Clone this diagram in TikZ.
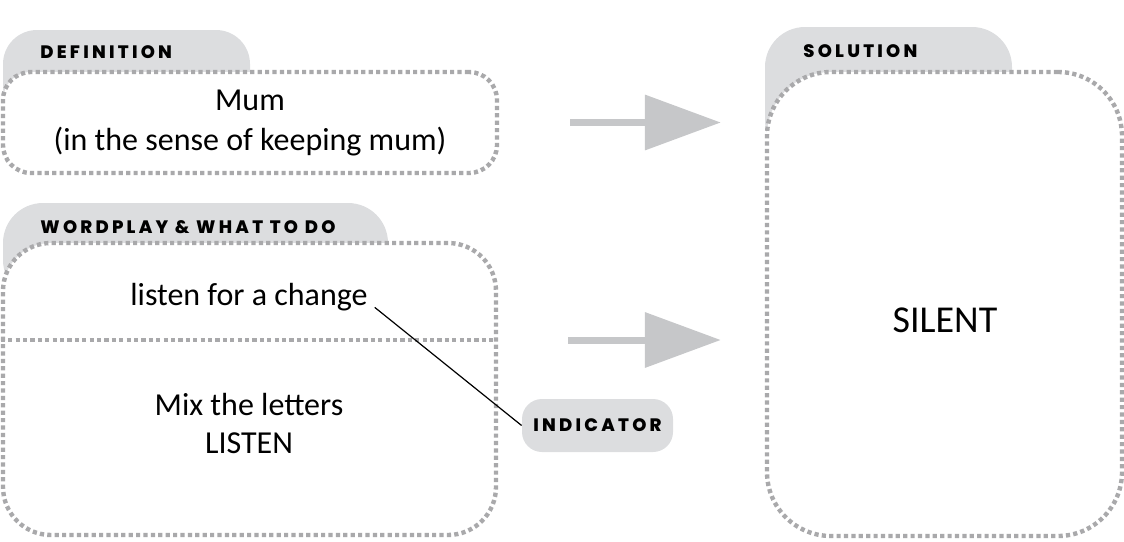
\documentclass[tikz,border=0pt]{standalone}
\usepackage{fontspec}
\setmainfont{Carlito}
\newfontfamily\tabfont[LetterSpace=18]{Poppins ExtraBold}
\usetikzlibrary{arrows.meta}
\definecolor{tabgray}{HTML}{DCDDDF}
\definecolor{dotgray}{HTML}{A9A9AB}
\definecolor{arrgray}{HTML}{C6C7C9}
\begin{document}
\begin{tikzpicture}[x=0.5pt, y=-0.5pt, line join=round,
  dotline/.style={draw=dotgray, line width=2.2pt, dash pattern=on 2.1pt off 1.6pt},
  box/.style={dotline, fill=white},
  body/.style={align=center, font=\fontsize{16}{20}\selectfont},
  tablab/.style={anchor=west, inner sep=0pt, font=\tabfont\fontsize{9}{11}\selectfont},
  bigarrow/.style={draw=arrgray, line width=3.5pt, -{Triangle[length=38pt, width=27pt]}, shorten <=35.5pt, shorten >=22pt}]
\useasboundingbox (0,0) rectangle (1124,541);
% grey tabs behind the boxes
\fill[tabgray, rounded corners=17pt] (3,30) rectangle (250,120);
\fill[tabgray, rounded corners=20pt] (3,203) rectangle (388,300);
\fill[tabgray, rounded corners=20pt] (765,27) rectangle (1012,160);
% boxes
\node[box, body, minimum width=247pt, minimum height=50.5pt, rounded corners=14pt] (def) at (250,122.5) {Mum\\(in the sense of keeping mum)};
\node[box, minimum width=246.5pt, minimum height=146pt, rounded corners=24pt] (wp) at (249.5,389) {};
\node[box, minimum width=177.5pt, minimum height=232pt, rounded corners=32pt] (sol) at (944.5,304) {};
\coordinate (mid) at (497,340);
\draw[dotline] (wp.west |- mid) -- ([xshift=-2pt]mid);
% tab labels
\node[tablab] (deflab) at (40,52) {DEFINITION};
\node[tablab] (wplab) at (40,227) {WORDPLAY \& WHAT TO DO};
\node[tablab] (sollab) at (803,51) {SOLUTION};
% texts
\node[body] (lis) at (249,297) {listen for a change};
\node[body, font=\fontsize{16}{19}\selectfont] (mix) at (249,423) {Mix the letters\\LISTEN};
\node[body, font=\fontsize{19}{22}\selectfont] (ans) at (945,320) {SILENT};
\node[fill=tabgray, rounded corners=10pt, minimum width=75.5pt, minimum height=26.5pt, font=\tabfont\fontsize{9}{11}\selectfont] (ind) at (597.5,425.5) {INDICATOR};
\draw[line width=0.6pt] ([yshift=-1pt]lis.base east) -- (ind.west);
% arrows
\draw[bigarrow] (def.east) -- (sol.west |- def.east);
\draw[bigarrow] (mid) -- (sol.west |- mid);
\end{tikzpicture}
\end{document}
